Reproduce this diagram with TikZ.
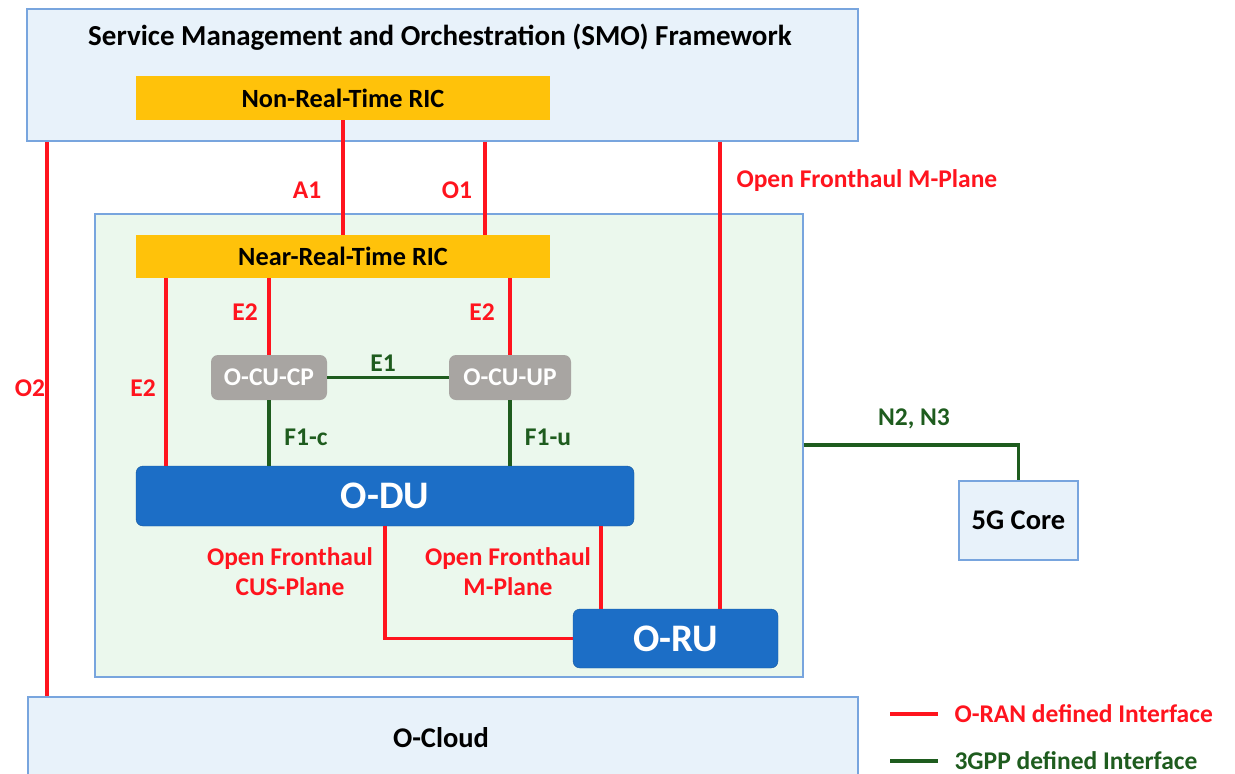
\documentclass[tikz,border=0pt]{standalone}
\usepackage{fontspec}
\setmainfont{Carlito}
\usetikzlibrary{calc}
\definecolor{paneblue}{RGB}{232,242,250}
\definecolor{paneedge}{RGB}{120,165,222}
\definecolor{rangreen}{RGB}{235,248,237}
\definecolor{ricgold}{RGB}{255,194,10}
\definecolor{cugray}{RGB}{168,165,162}
\definecolor{dublue}{RGB}{28,110,198}
\definecolor{ifred}{RGB}{255,20,30}
\definecolor{ifgreen}{RGB}{30,92,30}
\tikzset{
  pane/.style={draw=paneedge, fill=paneblue, line width=1.6pt, inner sep=0pt},
  ranpane/.style={draw=paneedge, fill=rangreen, line width=1.6pt, inner sep=0pt},
  ric/.style={fill=ricgold, inner sep=0pt, font=\bfseries\fontsize{26.3}{29}\selectfont},
  cu/.style={fill=cugray, rounded corners=7pt, inner sep=0pt, text=white,
             font=\bfseries\fontsize{25.5}{28}\selectfont},
  unit/.style={fill=dublue, draw=dublue!80!black, line width=0.4pt, rounded corners=7pt,
               inner sep=0pt, text=white, font=\bfseries\fontsize{39}{42}\selectfont},
  bigtxt/.style={font=\bfseries\fontsize{28.5}{31}\selectfont},
  oran/.style={draw=ifred, line width=3.4pt},
  tgpp/.style={draw=ifgreen, line width=3.4pt},
  redlab/.style={text=ifred, font=\bfseries\fontsize{25.5}{30}\selectfont, align=center},
  greenlab/.style={text=ifgreen, font=\bfseries\fontsize{25.5}{30}\selectfont},
}
\begin{document}
\begin{tikzpicture}[x=1pt, y=-1pt]
\useasboundingbox (0,0) rectangle (1235,774);

% framework, cloud and RAN areas
\node[pane, minimum width=831pt, minimum height=132pt] (smo) at (442.5,75) {};
\node[bigtxt, font=\bfseries\fontsize{29}{31}\selectfont] (smotitle) at (440,37) {Service Management and Orchestration (SMO) Framework};
\node[pane, minimum width=830pt, minimum height=90pt] (ocloud) at (443,742) {};
\node[bigtxt] (ocloudlab) at (441,738) {O-Cloud};
\node[ranpane, minimum width=708pt, minimum height=463pt] (ran) at (449,445.5) {};
\node[pane, minimum width=119pt, minimum height=79pt, bigtxt] (core) at (1018.5,520.5) {5G Core};

% RICs
\node[ric, minimum width=414pt, minimum height=44pt] (nonrt) at (343,98) {Non-Real-Time RIC};
\node[ric, minimum width=414pt, minimum height=43pt] (nearrt) at (343,256.5) {Near-Real-Time RIC};

% RAN functions
\node[cu, minimum width=116pt, minimum height=45pt] (cucp) at (269,377.5) {O-CU-CP};
\node[cu, minimum width=122pt, minimum height=45pt] (cuup) at (510,377.5) {O-CU-UP};
\node[unit, minimum width=498pt, minimum height=60pt] (odu) at (385,496) {O-DU};
\node[unit, minimum width=205pt, minimum height=59pt] (oru) at (675.5,638.5) {O-RU};

% x positions of the vertical interfaces
\coordinate (xo2) at (47,0);
\coordinate (xo1) at (485,0);
\coordinate (xsmofh) at (720,0);
\coordinate (xe2) at (166,0);
\coordinate (xfhm) at (601,0);
\coordinate (yn) at (0,445);

% O-RAN interfaces
\draw[oran] (smo.south -| xo2) -- (ocloud.north -| xo2);
\draw[oran] (nonrt.south) -- (nearrt.north);
\draw[oran] (smo.south -| xo1) -- (nearrt.north -| xo1);
\draw[oran] (smo.south -| xsmofh) -- (oru.north -| xsmofh);
\draw[oran] (nearrt.south -| xe2) -- (odu.north -| xe2);
\draw[oran] (nearrt.south -| cucp.north) -- (cucp.north);
\draw[oran] (nearrt.south -| cuup.north) -- (cuup.north);
\draw[oran] (odu.south) |- (oru.west);
\draw[oran] (odu.south -| xfhm) -- (oru.north -| xfhm);

% 3GPP interfaces
\draw[tgpp] (cucp.east) -- (cuup.west);
\draw[tgpp] (cucp.south) -- (odu.north -| cucp.south);
\draw[tgpp] (cuup.south) -- (odu.north -| cuup.south);
\draw[tgpp] (ran.east |- yn) -| (core.north);

% interface labels
\node[redlab] (lo2) at (30,388) {O2};
\node[redlab] (la1) at (307,190) {A1};
\node[redlab] (lo1) at (457,190) {O1};
\node[redlab, anchor=west] (lsmofh) at (733,181) {Open Fronthaul M-Plane};
\node[redlab] (le2a) at (143,388) {E2};
\node[redlab] (le2b) at (245,312) {E2};
\node[redlab] (le2c) at (482,312) {E2};
\node[redlab] (lcus) at (290,572) {Open Fronthaul\\CUS-Plane};
\node[redlab] (lfhm) at (508,572) {Open Fronthaul\\M-Plane};
\node[greenlab] (le1) at (383,363) {E1};
\node[greenlab] (lf1c) at (306,437) {F1-c};
\node[greenlab] (lf1u) at (548,437) {F1-u};
\node[greenlab] (ln) at (914,419) {N2, N3};

% legend
\coordinate (lr1) at (890,714);
\coordinate (lr2) at (938,714);
\coordinate (lg1) at (890,761);
\coordinate (lg2) at (938,761);
\draw[oran] (lr1) -- (lr2);
\draw[tgpp] (lg1) -- (lg2);
\node[redlab, anchor=west] (legr) at (951,714) {O-RAN defined Interface};
\node[greenlab, anchor=west] (legg) at (951,761) {3GPP defined Interface};
\end{tikzpicture}
\end{document}
